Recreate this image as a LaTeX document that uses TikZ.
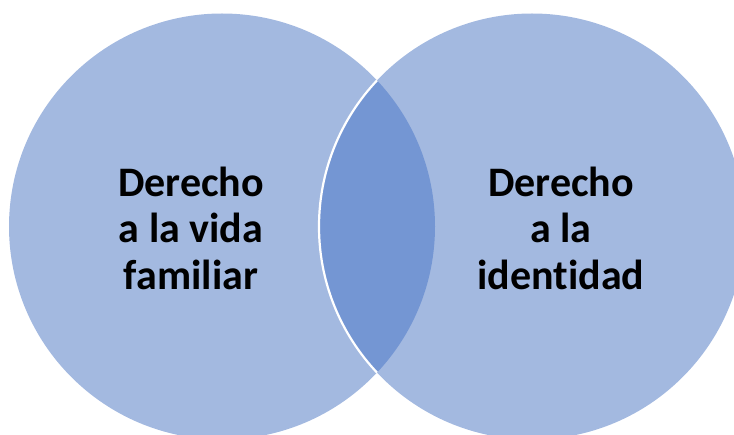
\documentclass[tikz,border=0pt]{standalone}
\usepackage{fontspec}
\setmainfont[Ligatures=NoCommon]{Carlito}
\definecolor{lightblue}{HTML}{A3B9E0}
\definecolor{darkblue}{HTML}{7496D3}
\tikzset{
  setcircle/.style={fill=lightblue, draw=none},
  label/.style={align=center, font=\bfseries\fontsize{42}{46.5}\selectfont, text=black}
}
\begin{document}
\begin{tikzpicture}[x=1pt,y=1pt]
\useasboundingbox (0,0) rectangle (734,434);
\begin{scope}
\clip (0,0) rectangle (734,434);
\coordinate (cl) at (222,207.5);
\coordinate (cr) at (532,207.5);
\fill[setcircle] (cl) circle (213);
\fill[setcircle] (cr) circle (213);
\begin{scope}
\clip (cl) circle (213);
\fill[darkblue] (cr) circle (213);
\draw[white, line width=2.2] (cr) circle (213);
\end{scope}
\end{scope}
\node[label] (a) at (191,206) {Derecho\\a la vida\\familiar};
\node[label] (b) at (561,206) {Derecho\\a la\\identidad};
\end{tikzpicture}
\end{document}
